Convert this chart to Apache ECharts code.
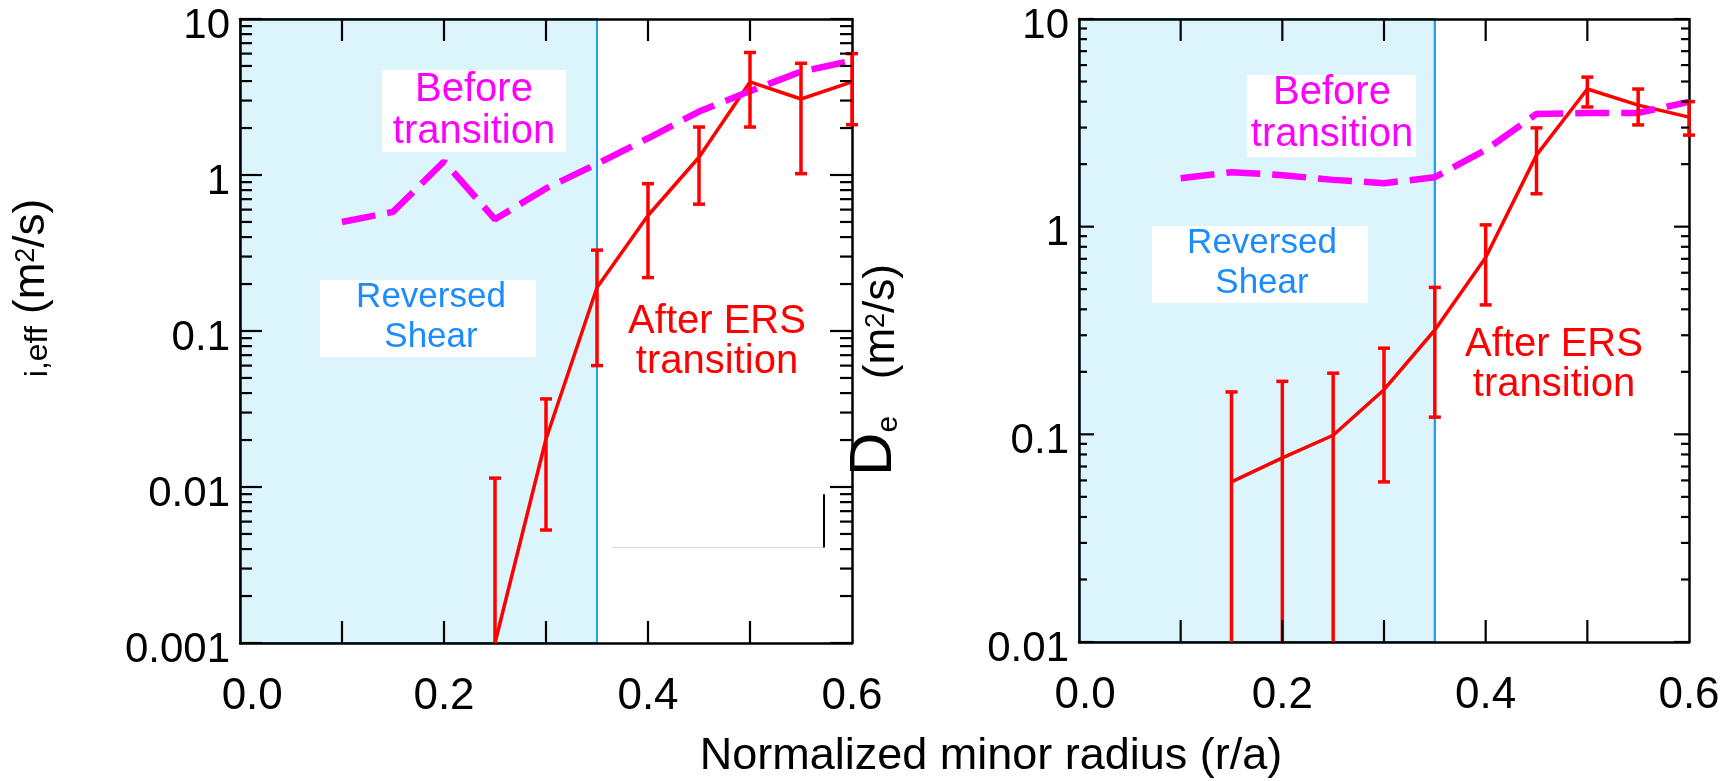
<!DOCTYPE html>
<html>
<head>
<meta charset="utf-8">
<script src="https://cdn.jsdelivr.net/npm/echarts@6/dist/echarts.min.js"></script>
<style>
html,body{margin:0;padding:0;background:#fff;}
#chart{width:1724px;height:781px;background:#fff;}
</style>
</head>
<body>
<div id="chart"></div>
<script>
// ---------- data ----------
const xTickLabels = ['0.0', '', '0.2', '', '0.4', '', '0.6'];
const xTickValues = [0.1, 0.2, 0.3, 0.4, 0.5];
const yTickLabelsLeft = ['0.001', '0.01', '0.1', '1', '10'];
const yTickLabelsRight = ['0.01', '0.1', '1', '10'];
const yDecadesLeft = [0.001, 0.01, 0.1, 1, 10];
const yDecadesRight = [0.01, 0.1, 1, 10];
const minorSteps = [2, 3, 4, 5, 6, 7, 8, 9];

// left panel (chi_i,eff)
const leftBeforeX = [0.1, 0.15, 0.2, 0.25, 0.3, 0.35, 0.4, 0.45, 0.5, 0.55, 0.6];
const leftBeforeY = [0.5, 0.58, 1.22, 0.52, 0.82, 1.18, 1.72, 2.55, 3.45, 4.6, 5.4];
const leftAfterX = [0.25, 0.3, 0.35, 0.4, 0.45, 0.5, 0.55, 0.6];
const leftAfterY = [0.001, 0.0203, 0.19, 0.55, 1.3, 3.95, 3.07, 3.95];
const leftErrLow = [0.001, 0.0053, 0.06, 0.22, 0.65, 2.03, 1.02, 2.1];
const leftErrHigh = [0.0114, 0.0367, 0.33, 0.88, 2.03, 6.1, 5.2, 6.0];

// right panel (D_e)
const rightBeforeX = [0.1, 0.15, 0.2, 0.25, 0.3, 0.35, 0.4, 0.45, 0.5, 0.55, 0.6];
const rightBeforeY = [1.71, 1.83, 1.77, 1.68, 1.62, 1.73, 2.34, 3.49, 3.53, 3.53, 3.99];
const rightAfterX = [0.15, 0.2, 0.25, 0.3, 0.35, 0.4, 0.45, 0.5, 0.55, 0.6];
const rightAfterY = [0.059, 0.077, 0.099, 0.164, 0.318, 0.71, 2.21, 4.6, 3.85, 3.37];
const rightErrLow = [0.01, 0.01, 0.01, 0.059, 0.121, 0.42, 1.44, 3.77, 3.09, 2.76];
const rightErrHigh = [0.16, 0.18, 0.197, 0.26, 0.51, 1.02, 2.99, 5.25, 4.6, 4.0];

// reversed shear region [r/a start, r/a end]
const shearRegion = [0, 0.35];

// axis ranges
const xRange = [0, 0.6];
const leftYRange = [0.001, 10];
const rightYRange = [0.01, 10];

// stray box remnant in left panel [x0, x1, yLow, yHigh]
const leftRemnant = [0.365, 0.5725, 0.0041, 0.009];

// ---------- helpers ----------
const FONT = 'Liberation Sans, Arial, Helvetica, sans-serif';
const RED = '#ff0000', MAG = '#ff00ff', BLUE = '#1ea0ee', FILL = '#dcf5fc', TXTBLUE = '#1a8cff';

function zip(xs, ys) { return xs.map((x, i) => [x, ys[i]]); }
function minorValues(decades) {
  const out = [];
  decades.slice(0, -1).forEach(d => minorSteps.forEach(k => out.push(k * d)));
  return out;
}

function xAxisDef(grid, pos, firstPrefix) {
  return {
    type: 'value', gridIndex: grid, position: pos, min: xRange[0], max: xRange[1], interval: 0.1,
    axisLine: { show: true, onZero: false, lineStyle: { color: '#000', width: 2.5 } },
    axisTick: { show: false },
    axisLabel: {
      show: pos === 'bottom', fontSize: 44, fontFamily: FONT, color: '#000', margin: 32,
      formatter: v => { const i = Math.round(v * 10); return (i === 0 ? firstPrefix : '') + xTickLabels[i]; }
    },
    splitLine: { show: false }
  };
}
function yLogDef(grid, pos, range, labels) {
  const e0 = Math.round(Math.log10(range[0]));
  return {
    type: 'log', gridIndex: grid, position: pos, min: range[0], max: range[1], logBase: 10,
    axisLine: { show: true, onZero: false, lineStyle: { color: '#000', width: 2.5 } },
    axisTick: { show: false },
    axisLabel: {
      show: pos === 'left', fontSize: 42, fontFamily: FONT, color: '#000', margin: 10,
      verticalAlign: 'top', lineHeight: 14,
      formatter: v => labels[Math.round(Math.log10(v)) - e0]
    },
    splitLine: { show: false }, minorTick: { show: false }
  };
}
function errRender(yMin) {
  return function (params, api) {
    const x = api.value(0), lo = api.value(1), hi = api.value(2);
    const pt = api.coord([x, hi]);
    const pb = api.coord([x, Math.max(lo, yMin)]);
    const cw = 6;
    const st = { stroke: RED, lineWidth: 3.5 };
    const ch = [
      { type: 'line', shape: { x1: pt[0], y1: pt[1], x2: pb[0], y2: pb[1] }, style: st },
      { type: 'line', shape: { x1: pt[0] - cw, y1: pt[1], x2: pt[0] + cw, y2: pt[1] }, style: st }
    ];
    if (lo > yMin) ch.push({ type: 'line', shape: { x1: pb[0] - cw, y1: pb[1], x2: pb[0] + cw, y2: pb[1] }, style: st });
    return { type: 'group', children: ch };
  };
}
function shadeRender(yRange) {
  return function (params, api) {
    const p0 = api.coord([api.value(0), yRange[1]]);
    const p1 = api.coord([api.value(1), yRange[0]]);
    return {
      type: 'group', children: [
        { type: 'rect', shape: { x: p0[0], y: p0[1], width: p1[0] - p0[0], height: p1[1] - p0[1] },
          style: { fill: FILL, stroke: BLUE, lineWidth: 2 } },
        { type: 'line', shape: { x1: p1[0], y1: p0[1], x2: p1[0], y2: p1[1] }, style: { stroke: BLUE, lineWidth: 2 } }
      ]
    };
  };
}

const chart = echarts.init(document.getElementById('chart'), null, { renderer: 'canvas' });

const annotations = [
  // left panel annotations
  { type: 'rect', z: 10, shape: { x: 382, y: 70, width: 184, height: 82 }, style: { fill: '#fff' } },
  { type: 'text', z: 11, x: 474, y: 111, style: { text: 'Before\ntransition', fill: MAG, fontSize: 40, fontFamily: FONT, lineHeight: 42, align: 'center', verticalAlign: 'middle' } },
  { type: 'rect', z: 10, shape: { x: 320, y: 280, width: 216, height: 77 }, style: { fill: '#fff' } },
  { type: 'text', z: 11, x: 431, y: 317, style: { text: 'Reversed\nShear', fill: TXTBLUE, fontSize: 35, fontFamily: FONT, lineHeight: 40, align: 'center', verticalAlign: 'middle' } },
  { type: 'text', z: 11, x: 717, y: 342, style: { text: 'After ERS\ntransition', fill: RED, fontSize: 40, fontFamily: FONT, lineHeight: 40, align: 'center', verticalAlign: 'middle' } },
  // right panel annotations
  { type: 'rect', z: 10, shape: { x: 1247, y: 75, width: 169, height: 82 }, style: { fill: '#fff' } },
  { type: 'text', z: 11, x: 1332, y: 114, style: { text: 'Before\ntransition', fill: MAG, fontSize: 40, fontFamily: FONT, lineHeight: 42, align: 'center', verticalAlign: 'middle' } },
  { type: 'rect', z: 10, shape: { x: 1152, y: 226, width: 216, height: 77 }, style: { fill: '#fff' } },
  { type: 'text', z: 11, x: 1262, y: 263, style: { text: 'Reversed\nShear', fill: TXTBLUE, fontSize: 35, fontFamily: FONT, lineHeight: 40, align: 'center', verticalAlign: 'middle' } },
  { type: 'text', z: 11, x: 1554, y: 365, style: { text: 'After ERS\ntransition', fill: RED, fontSize: 40, fontFamily: FONT, lineHeight: 40, align: 'center', verticalAlign: 'middle' } },
  // y-axis titles
  { type: 'text', z: 11, x: 32, y: 288, rotation: Math.PI / 2, style: {
      text: '{s|i,eff}{n| (m}{sup|2}{n|/s)}', fontFamily: FONT, fill: '#000', align: 'center', verticalAlign: 'middle',
      rich: {
        s: { fontSize: 32, lineHeight: 32, fontFamily: FONT, fill: '#000', verticalAlign: 'bottom' },
        n: { fontSize: 44, lineHeight: 44, fontFamily: FONT, fill: '#000', verticalAlign: 'bottom' },
        sup: { fontSize: 27, lineHeight: 27, fontFamily: FONT, fill: '#000', verticalAlign: 'bottom', padding: [0, 0, 14, 0] }
      } } },
  { type: 'text', z: 11, x: 874, y: 370, rotation: Math.PI / 2, style: {
      text: '{D|D}{e|e}{n|   (m}{sup|2}{n|/s)}', fontFamily: FONT, fill: '#000', align: 'center', verticalAlign: 'middle',
      rich: {
        D: { fontSize: 60, lineHeight: 60, fontFamily: FONT, fill: '#000', verticalAlign: 'bottom' },
        e: { fontSize: 30, lineHeight: 30, fontFamily: FONT, fill: '#000', verticalAlign: 'bottom' },
        n: { fontSize: 44, lineHeight: 44, fontFamily: FONT, fill: '#000', verticalAlign: 'bottom' },
        sup: { fontSize: 27, lineHeight: 27, fontFamily: FONT, fill: '#000', verticalAlign: 'bottom', padding: [0, 0, 14, 0] }
      } } },
  // x-axis title
  { type: 'text', z: 11, x: 991, y: 757, style: { text: 'Normalized minor radius (r/a)', fill: '#000', fontSize: 45, fontFamily: FONT, align: 'center', verticalAlign: 'middle' } }
];

const option = {
  animation: false,
  grid: [
    { left: 240, top: 19, width: 612, height: 624 },
    { left: 1079, top: 19, width: 610, height: 623 }
  ],
  xAxis: [
    xAxisDef(0, 'bottom', '  '), xAxisDef(0, 'top', ''),
    xAxisDef(1, 'bottom', ' '), xAxisDef(1, 'top', '')
  ],
  yAxis: [
    yLogDef(0, 'left', leftYRange, yTickLabelsLeft),
    yLogDef(0, 'right', leftYRange, yTickLabelsLeft),
    yLogDef(1, 'left', rightYRange, yTickLabelsRight),
    yLogDef(1, 'right', rightYRange, yTickLabelsRight)
  ],
  series: [
    {
      type: 'custom', name: 'leftShade', xAxisIndex: 0, yAxisIndex: 0, zlevel: -1, z: 0, silent: true,
      data: [shearRegion], encode: { x: [0, 1] }, renderItem: shadeRender(leftYRange)
    },
    {
      type: 'line', name: 'leftAfter', xAxisIndex: 0, yAxisIndex: 0, z: 2,
      data: zip(leftAfterX, leftAfterY), symbol: 'none',
      lineStyle: { color: RED, width: 3.5 }
    },
    {
      type: 'line', name: 'leftBefore', xAxisIndex: 0, yAxisIndex: 0, z: 3,
      data: zip(leftBeforeX, leftBeforeY), symbol: 'none',
      lineStyle: { color: MAG, width: 6.5, type: [34, 12], cap: 'butt' }
    },
    {
      type: 'custom', name: 'leftErr', xAxisIndex: 0, yAxisIndex: 0, z: 4,
      data: leftAfterX.map((x, i) => [x, leftErrLow[i], leftErrHigh[i]]),
      encode: { x: 0, y: [1, 2] }, renderItem: errRender(leftYRange[0])
    },
    {
      type: 'line', name: 'remnant', xAxisIndex: 0, yAxisIndex: 0, z: 2, data: [], symbol: 'none',
      markLine: {
        silent: true, symbol: 'none', label: { show: false },
        data: [
          [{ coord: [leftRemnant[0], leftRemnant[2]], lineStyle: { color: '#d8d8d8', width: 1, type: 'solid' } },
           { coord: [leftRemnant[1], leftRemnant[2]] }],
          [{ coord: [leftRemnant[1], leftRemnant[2]], lineStyle: { color: '#000', width: 2, type: 'solid' } },
           { coord: [leftRemnant[1], leftRemnant[3]] }]
        ]
      }
    },
    {
      type: 'custom', name: 'rightShade', xAxisIndex: 2, yAxisIndex: 2, zlevel: -1, z: 0, silent: true,
      data: [shearRegion], encode: { x: [0, 1] }, renderItem: shadeRender(rightYRange)
    },
    {
      type: 'line', name: 'rightAfter', xAxisIndex: 2, yAxisIndex: 2, z: 2,
      data: zip(rightAfterX, rightAfterY), symbol: 'none',
      lineStyle: { color: RED, width: 3.5 }
    },
    {
      type: 'line', name: 'rightBefore', xAxisIndex: 2, yAxisIndex: 2, z: 3,
      data: zip(rightBeforeX, rightBeforeY), symbol: 'none',
      lineStyle: { color: MAG, width: 6.5, type: [34, 12], cap: 'butt' }
    },
    {
      type: 'custom', name: 'rightErr', xAxisIndex: 2, yAxisIndex: 2, z: 4,
      data: rightAfterX.map((x, i) => [x, rightErrLow[i], rightErrHigh[i]]),
      encode: { x: 0, y: [1, 2] }, renderItem: errRender(rightYRange[0])
    }
  ],
  graphic: annotations
};
chart.setOption(option);

// tick marks, positioned through the axes' own scales
function tickLine(a, b) {
  return { type: 'line', z: 12, silent: true, shape: { x1: a[0], y1: a[1], x2: b[0], y2: b[1] }, style: { stroke: '#000', lineWidth: 2.2 } };
}
function buildTicks(xi, yi, yRange, decades, majorLen, minorLen) {
  const conv = p => chart.convertToPixel({ xAxisIndex: xi, yAxisIndex: yi }, p);
  const els = [];
  xTickValues.forEach(x => {
    const b = conv([x, yRange[0]]), t = conv([x, yRange[1]]);
    els.push(tickLine(b, [b[0], b[1] - 22]), tickLine(t, [t[0], t[1] + 22]));
  });
  const yt = (v, len) => {
    const l = conv([xRange[0], v]), r = conv([xRange[1], v]);
    els.push(tickLine(l, [l[0] + len, l[1]]), tickLine(r, [r[0] - len, r[1]]));
  };
  decades.forEach(v => yt(v, majorLen));
  minorValues(decades).forEach(v => yt(v, minorLen));
  return els;
}
const tickEls = buildTicks(0, 0, leftYRange, yDecadesLeft, 22, 12)
  .concat(buildTicks(2, 2, rightYRange, yDecadesRight, 15, 8));
chart.setOption({ graphic: annotations.concat(tickEls) });
</script>
</body>
</html>
